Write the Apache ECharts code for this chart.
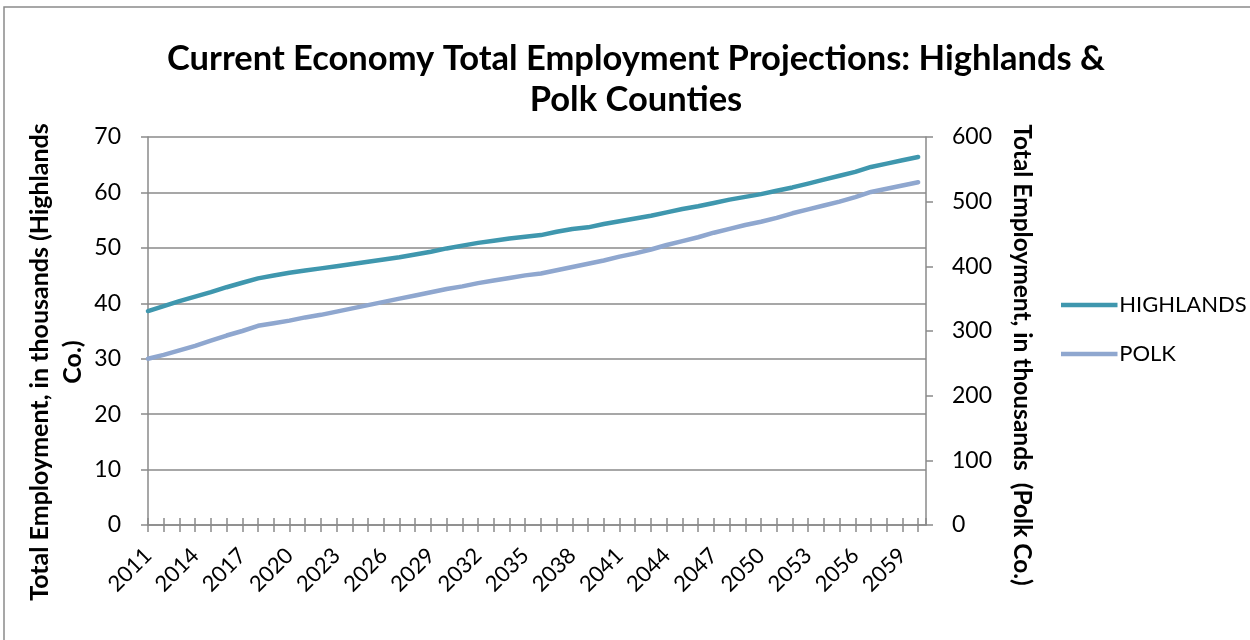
<!DOCTYPE html>
<html>
<head>
<meta charset="utf-8">
<script src="https://cdn.jsdelivr.net/npm/echarts@6/dist/echarts.min.js"></script>
<style>
  html, body { margin: 0; padding: 0; background: #fff; }
  #chart { width: 1250px; height: 640px; }
</style>
</head>
<body>
<div id="chart"></div>
<script>
// Projection years, one point per year
const years = [];
for (let y = 2011; y <= 2060; y++) years.push(y);

// Total employment, thousands - Highlands County (left axis)
const highlands = [
  38.6, 39.5, 40.4, 41.2, 42.0, 42.9, 43.7, 44.5, 45.0, 45.5,
  45.9, 46.3, 46.7, 47.1, 47.5, 47.9, 48.3, 48.8, 49.3, 49.9,
  50.4, 50.9, 51.3, 51.7, 52.0, 52.3, 52.9, 53.4, 53.7, 54.3,
  54.8, 55.3, 55.8, 56.4, 57.0, 57.5, 58.1, 58.7, 59.2, 59.7,
  60.3, 60.9, 61.6, 62.3, 63.0, 63.7, 64.6, 65.2, 65.8, 66.4
];

// Total employment, thousands - Polk County (right axis)
const polk = [
  257, 263, 270, 277, 285, 293, 300, 308, 312, 316,
  321, 325, 330, 335, 340, 345, 350, 355, 360, 365,
  369, 374, 378, 382, 386, 389, 394, 399, 404, 409,
  415, 420, 426, 433, 439, 445, 452, 458, 464, 469,
  475, 482, 488, 494, 500, 507, 515, 520, 525, 530
];

const seriesNames = ['HIGHLANDS', 'POLK'];
const titleLines = ['Current Economy Total Employment Projections: Highlands &', 'Polk Counties'];
const leftAxisName = ['Total Employment, in thousands (Highlands', 'Co.)'];
const rightAxisName = 'Total Employment, in thousands  (Polk Co.)';

const FONT = 'Lato, "Open Sans", sans-serif';
const GRID_COLOR = '#8a8a8a';
const C_HIGH = '#3f97ae';
const C_POLK = '#8fa7cf';

const chart = echarts.init(document.getElementById('chart'), null, { renderer: 'canvas' });

const xCommon = {
  type: 'value',
  min: 2011,
  max: 2060.5,
  interval: 1,
  position: 'bottom',
  splitLine: { show: false }
};

chart.setOption({
  backgroundColor: '#ffffff',
  animation: false,
  title: [
    {
      text: titleLines[0],
      left: 631, top: 36, textAlign: 'center',
      textStyle: { fontFamily: FONT, fontWeight: 'bold', fontSize: 34.5, color: '#000' }
    },
    {
      text: titleLines[1],
      left: 631, top: 77, textAlign: 'center',
      textStyle: { fontFamily: FONT, fontWeight: 'bold', fontSize: 34.5, color: '#000' }
    }
  ],
  legend: {
    orient: 'vertical',
    left: 1056, top: 289,
    itemWidth: 54, itemHeight: 14, itemGap: 27,
    icon: 'path://M0,6 L54,6 L54,8 L0,8 Z',
    textStyle: { fontFamily: FONT, fontSize: 22, color: '#000', padding: [0, 0, 0, -2] },
    data: seriesNames.map((n, i) => ({
      name: n,
      itemStyle: { color: i === 0 ? C_HIGH : C_POLK, borderColor: i === 0 ? C_HIGH : C_POLK, borderWidth: 2.5 }
    }))
  },
  grid: { left: 148, right: 324, top: 137, bottom: 115, containLabel: false },
  xAxis: [
    Object.assign({}, xCommon, {
      axisLine: { show: true, lineStyle: { color: GRID_COLOR, width: 1.5 } },
      axisTick: { show: true, inside: false, length: 7, lineStyle: { color: GRID_COLOR, width: 1.5 } },
      axisLabel: {
        rotate: 45, margin: 27,
        fontFamily: FONT, fontSize: 22, color: '#000',
        showMinLabel: true, showMaxLabel: false,
        formatter: v => (Number.isInteger(v) && (v - 2011) % 3 === 0) ? String(v) : ''
      }
    }),
    Object.assign({}, xCommon, {
      axisLine: { show: false },
      axisTick: { show: true, inside: true, length: 7, lineStyle: { color: GRID_COLOR, width: 1.5 } },
      axisLabel: { show: false }
    })
  ],
  yAxis: [
    {
      type: 'value', position: 'left', min: 0, max: 70, interval: 10,
      axisLine: { show: true, lineStyle: { color: GRID_COLOR, width: 1.5 } },
      axisTick: { show: true, length: 7, lineStyle: { color: GRID_COLOR, width: 1.5 } },
      axisLabel: { margin: 27, fontFamily: FONT, fontSize: 23, color: '#000' },
      splitLine: { show: true, lineStyle: { color: GRID_COLOR, width: 1.5 } }
    },
    {
      type: 'value', position: 'right', min: 0, max: 600, interval: 100,
      axisLine: { show: true, lineStyle: { color: GRID_COLOR, width: 1.5 } },
      axisTick: { show: true, length: 7, lineStyle: { color: GRID_COLOR, width: 1.5 } },
      axisLabel: { margin: 26, fontFamily: FONT, fontSize: 23, color: '#000' },
      splitLine: { show: false }
    }
  ],
  graphic: [
    {
      type: 'rect', silent: true, z: -1,
      shape: { x: 4, y: 7, width: 1300, height: 700 },
      style: { fill: 'none', stroke: '#8a8a8a', lineWidth: 1.5 }
    },
    {
      type: 'text', x: 40, y: 362, rotation: Math.PI / 2,
      style: { text: leftAxisName[0], fontFamily: FONT, fontWeight: 'bold', fontSize: 25, fill: '#000', align: 'center', verticalAlign: 'middle' }
    },
    {
      type: 'text', x: 73, y: 362, rotation: Math.PI / 2,
      style: { text: leftAxisName[1], fontFamily: FONT, fontWeight: 'bold', fontSize: 25, fill: '#000', align: 'center', verticalAlign: 'middle' }
    },
    {
      type: 'text', x: 1022, y: 355, rotation: -Math.PI / 2,
      style: { text: rightAxisName, fontFamily: FONT, fontWeight: 'bold', fontSize: 24.5, fill: '#000', align: 'center', verticalAlign: 'middle' }
    }
  ],
  series: [
    {
      name: seriesNames[0], type: 'line', xAxisIndex: 0, yAxisIndex: 0,
      data: years.map((y, i) => [y, highlands[i]]),
      symbol: 'none', smooth: false,
      lineStyle: { color: C_HIGH, width: 4.5, cap: 'round', join: 'round' },
      itemStyle: { color: C_HIGH }
    },
    {
      name: seriesNames[1], type: 'line', xAxisIndex: 0, yAxisIndex: 1,
      data: years.map((y, i) => [y, polk[i]]),
      symbol: 'none', smooth: false,
      lineStyle: { color: C_POLK, width: 4.5, cap: 'round', join: 'round' },
      itemStyle: { color: C_POLK }
    }
  ]
});
</script>
</body>
</html>
